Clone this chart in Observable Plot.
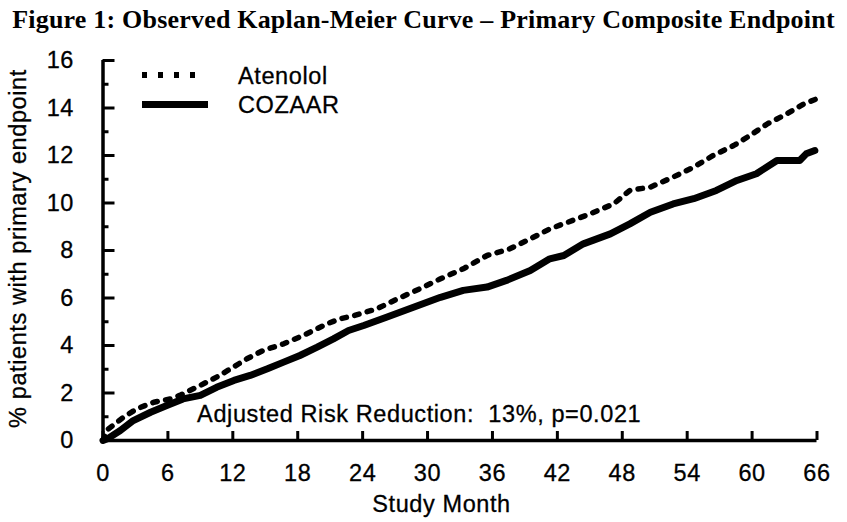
<!DOCTYPE html>
<html><head><meta charset="utf-8">
<script src="https://cdn.jsdelivr.net/npm/d3@7"></script>
<script src="https://cdn.jsdelivr.net/npm/@observablehq/plot@0.6"></script>
<style>
body{margin:0;background:#fff;}
#wrap{position:relative;width:847px;height:522px;overflow:hidden;background:#fff;}
#title{font-family:"Liberation Serif","Times New Roman",serif;font-weight:bold;font-size:26px;letter-spacing:0.2px;text-align:center;height:28px;padding-top:4px;line-height:32px;white-space:nowrap;color:#000;overflow:visible;}
#legend{position:absolute;left:0;top:0;}
#chart text, #legend text{stroke:#000;stroke-width:0.3px;}
</style></head>
<body>
<div id="wrap">
  <div id="title"></div>
  <div id="chart"></div>
  <svg id="legend" width="847" height="140"></svg>
</div>
<script>
const titleText = "Figure 1: Observed Kaplan-Meier Curve \u2013 Primary Composite Endpoint";
const xLabel = "Study Month";
const yLabel = "% patients with primary endpoint";
const seriesNames = ["Atenolol", "COZAAR"];
const xTicks = [0, 6, 12, 18, 24, 30, 36, 42, 48, 54, 60, 66];
const yTicks = [0, 2, 4, 6, 8, 10, 12, 14, 16];
const yMinorTicks = [1, 3, 5, 7, 9, 11, 13, 15];
const annotationText = "Adjusted Risk Reduction:  13%, p=0.021";
const annotationPos = [8.7, 1.1];

const atenololMonth = [0, 0.4, 1.9, 3.1, 4.7, 6.2, 7.1, 9.0, 10.5, 11.8, 13.3, 14.8, 16.7, 18.5, 20.7, 21.9, 23.2, 25.3, 27.2, 29.3, 31.2, 33.3, 35.5, 37.6, 39.5, 41.3, 43.8, 45.0, 47.2, 48.7, 50.6, 52.7, 54.6, 56.4, 58.3, 59.8, 61.4, 63.2, 64.8, 66];
const atenololPct = [0, 0.45, 0.98, 1.33, 1.61, 1.75, 1.9, 2.32, 2.67, 3.02, 3.44, 3.79, 4.07, 4.42, 4.91, 5.12, 5.26, 5.54, 5.96, 6.39, 6.81, 7.23, 7.79, 8.07, 8.49, 8.91, 9.33, 9.54, 9.96, 10.53, 10.67, 11.09, 11.51, 12.0, 12.42, 12.84, 13.33, 13.75, 14.18, 14.39];
const cozaarMonth = [0, 0.4, 1.6, 2.8, 4.4, 5.9, 7.4, 9.0, 10.5, 12.1, 13.6, 15.2, 16.7, 18.2, 19.8, 21.3, 22.7, 24.1, 26.2, 28.7, 31.2, 33.3, 35.5, 37.3, 39.5, 41.3, 42.6, 44.4, 46.9, 48.7, 50.6, 52.7, 54.6, 56.7, 58.6, 60.4, 62.3, 64.4, 65.0, 65.8];
const cozaarPct = [0, 0.07, 0.42, 0.84, 1.19, 1.47, 1.75, 1.9, 2.24, 2.53, 2.74, 3.02, 3.30, 3.58, 3.93, 4.28, 4.63, 4.84, 5.19, 5.61, 6.03, 6.32, 6.46, 6.74, 7.16, 7.65, 7.79, 8.28, 8.70, 9.12, 9.61, 9.96, 10.18, 10.53, 10.95, 11.23, 11.79, 11.79, 12.07, 12.21];

const atenolol = atenololMonth.map((m, i) => ({month: m, pct: atenololPct[i]}));
const cozaar = cozaarMonth.map((m, i) => ({month: m, pct: cozaarPct[i]}));

document.getElementById("title").textContent = titleText;

const font = "'Liberation Sans', Arial, sans-serif";
const fs = 23.5;
const chart = Plot.plot({
  width: 847,
  height: 490,
  marginTop: 28,
  marginBottom: 82,
  marginLeft: 102.5,
  marginRight: 30.5,
  x: {domain: [0, 66]},
  y: {domain: [0, 16]},
  style: {fontFamily: font, fontSize: fs + "px", letterSpacing: "0.6px", color: "#000", background: "#fff", overflow: "visible"},
  marks: [
    Plot.axisX({ticks: xTicks, tickSize: -9, tickPadding: 33, strokeWidth: 3, label: null, fontSize: fs}),
    Plot.axisY({ticks: yTicks, tickSize: -12, tickPadding: 41, strokeWidth: 3, label: null, fontSize: fs}),
    Plot.axisY({ticks: yMinorTicks, tickSize: -6, tickFormat: () => "", strokeWidth: 3, label: null}),
    Plot.ruleX([0], {strokeWidth: 3.5}),
    Plot.ruleY([0], {strokeWidth: 3.5}),
    Plot.line(cozaar, {x: "month", y: "pct", stroke: "#000", strokeWidth: 7, strokeLinejoin: "round", strokeLinecap: "round"}),
    Plot.line(atenolol, {x: "month", y: "pct", stroke: "#000", strokeWidth: 5.5, strokeDasharray: "4.5 8.5"}),
    Plot.text([annotationText], {x: () => annotationPos[0], y: () => annotationPos[1], text: d => d, textAnchor: "start", fontSize: fs, fill: "#000"}),
    Plot.text([xLabel], {frameAnchor: "bottom", text: d => d, textAnchor: "middle", dx: -18.5, dy: 71, fontSize: fs, fill: "#000"}),
    Plot.text([yLabel], {frameAnchor: "left", text: d => d, textAnchor: "middle", rotate: -90, dx: -84.5, dy: -2, fontSize: fs, fill: "#000"})
  ]
});
document.getElementById("chart").appendChild(chart);

// Legend overlay (inside plot area, as in reference)
const lg = d3.select("#legend");
const styles = [
  {dash: "5 11", width: 6, x2: 196},
  {dash: null, width: 7, x2: 208}
];
const rowY = [75, 104.5];
const textY = [84, 113];
seriesNames.forEach((name, i) => {
  const ln = lg.append("line").attr("x1", 142).attr("x2", styles[i].x2)
    .attr("y1", rowY[i]).attr("y2", rowY[i])
    .attr("stroke", "#000").attr("stroke-width", styles[i].width);
  if (styles[i].dash) ln.attr("stroke-dasharray", styles[i].dash);
  lg.append("text").attr("x", 238).attr("y", textY[i])
    .attr("font-family", font).attr("font-size", fs).attr("letter-spacing", "0.6px")
    .attr("fill", "#000").text(name);
});
</script>
</body></html>
